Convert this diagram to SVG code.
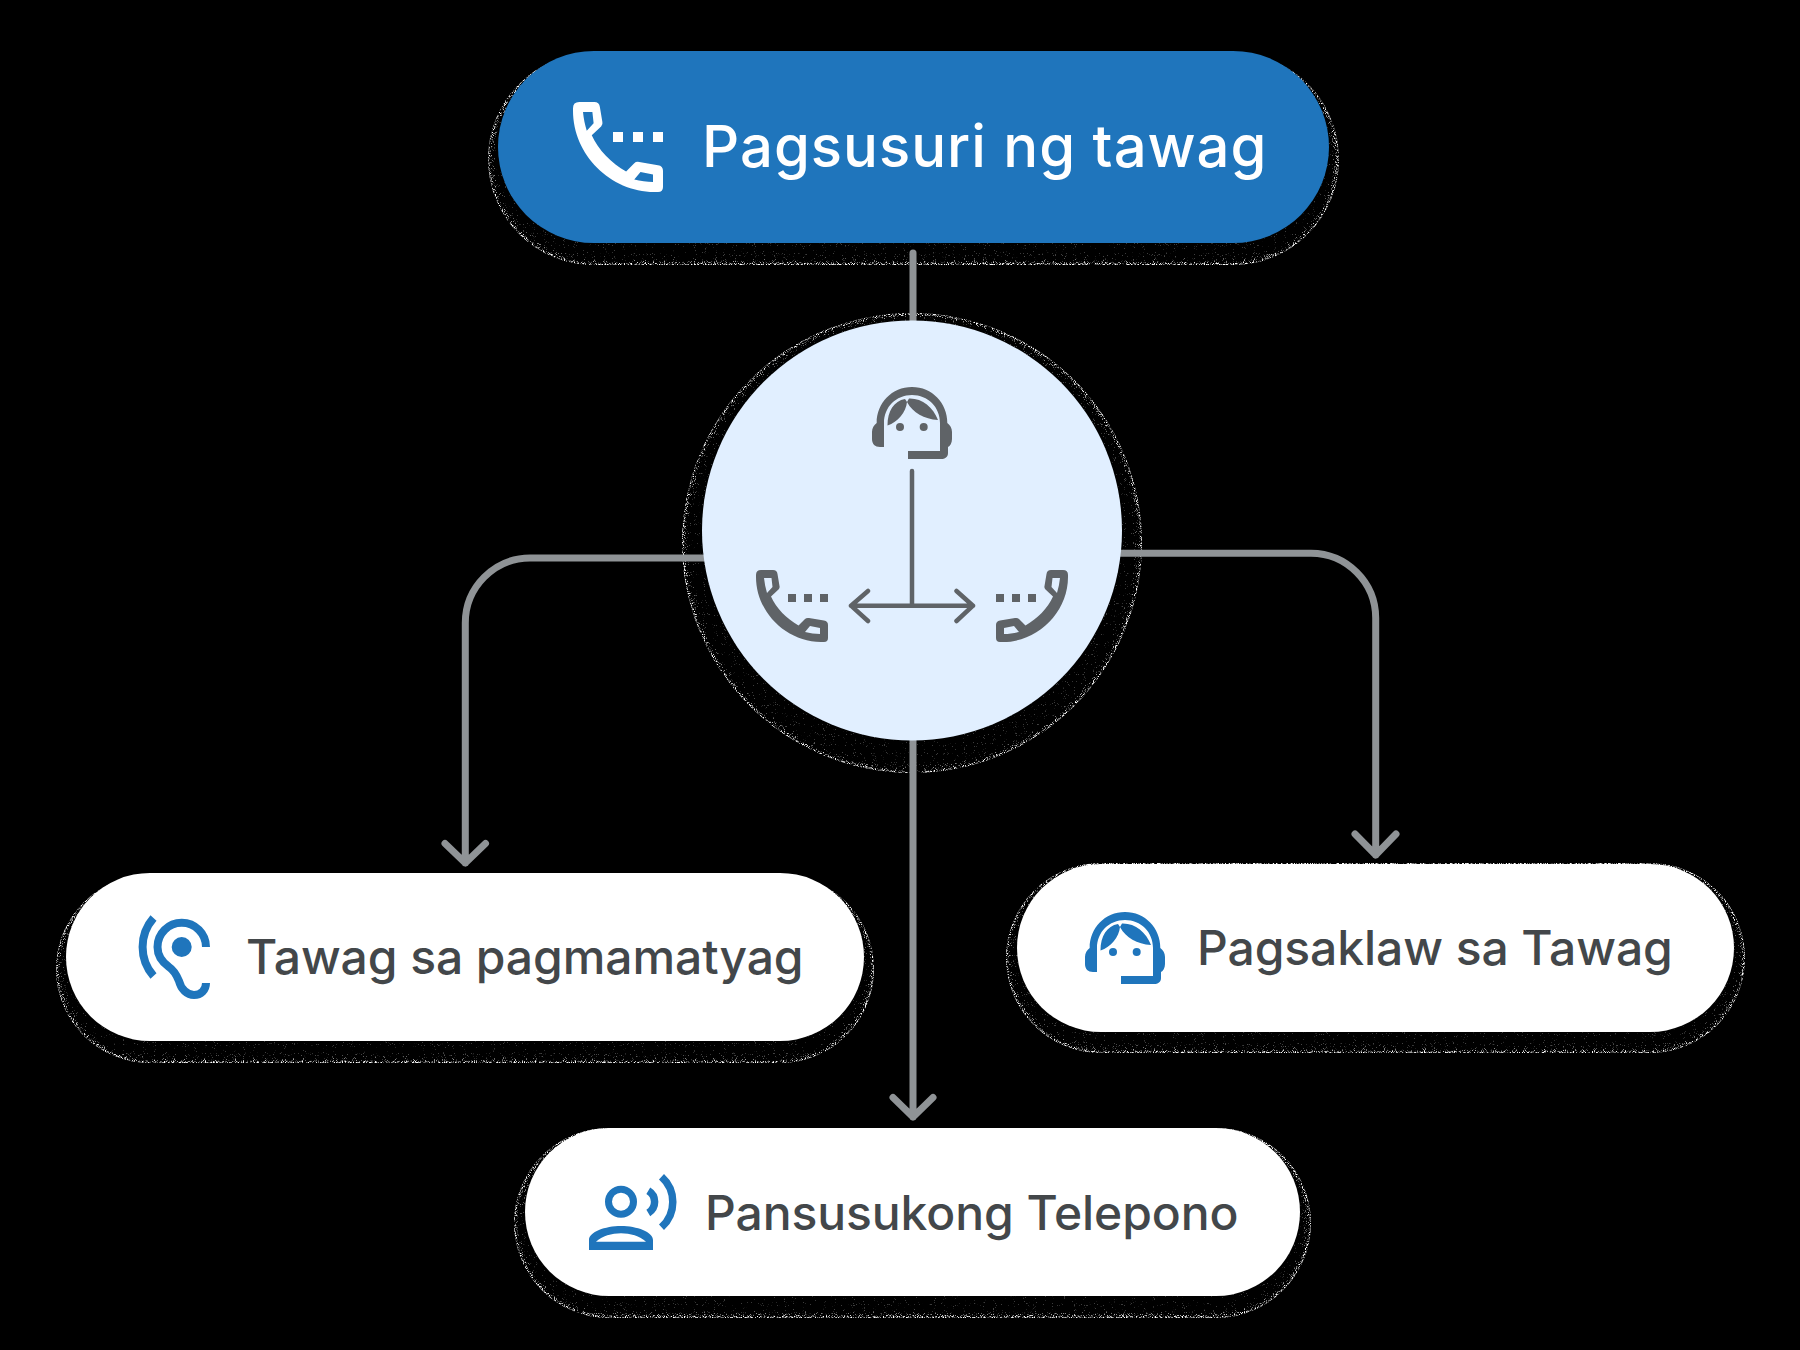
<svg xmlns="http://www.w3.org/2000/svg" width="1800" height="1350" viewBox="0 0 1800 1350">
<style>
text{font-family:Inter,"Liberation Sans",sans-serif;font-weight:450}
.lbl{font-size:48px;fill:#43474a;letter-spacing:-.08px}
.top{font-size:58px;fill:#fff;letter-spacing:1px}
.conn{fill:none;stroke:#8f9396;stroke-width:7;stroke-linecap:round;stroke-linejoin:round}
.inner{fill:none;stroke:#5f6367;stroke-width:4.500;stroke-linecap:round;stroke-linejoin:round}
.card{fill:#fff}
.ln{fill:none;stroke:#1f75bc;stroke-width:8}
.bl{fill:#1f75bc}
</style>
<defs>
<filter id="speck" x="-10%" y="-15%" width="120%" height="130%" color-interpolation-filters="sRGB">
<feTurbulence type="fractalNoise" baseFrequency="1.1" numOctaves="1" seed="3" result="n"/>
<feColorMatrix in="n" type="matrix" values="0 0 0 0 1 0 0 0 0 1 0 0 0 0 1 2.2 0 0 0 -.6" result="na"/>
<feGaussianBlur in="SourceAlpha" stdDeviation="5" result="b"/>
<feComponentTransfer in="b" result="inv"><feFuncA type="table" tableValues="1 .95 .9 .58 .3 .12"/></feComponentTransfer>
<feColorMatrix in="inv" type="matrix" values="0 0 0 0 1 0 0 0 0 1 0 0 0 0 1 0 0 0 1 0" result="invw"/>
<feComposite in="na" in2="invw" operator="arithmetic" k1="0" k2="1" k3="1" k4="-1" result="t"/>
<feColorMatrix in="t" type="matrix" values="0 0 0 0 1 0 0 0 0 1 0 0 0 0 1 0 0 0 2 0" result="w"/>
<feComposite in="w" in2="SourceAlpha" operator="in"/>
</filter>
<symbol id="phone" viewBox="0 0 72 72" overflow="visible">
<path fill-rule="evenodd" d="M5 0H17Q21 0 21.500 4L23.500 16Q24 18 22.500 19.500L15 26.500C20 38 31 49 42.500 55.500L49 49Q50.500 47.500 53 48L68 50.500Q72 51 72 55V68Q72 72 68 72H65C30 72 0 42 0 7V5Q0 0 5 0ZM8 8C8.500 13 9.500 18 11 23L16.500 17L15.500 8ZM49 62C54 63 59 64 64 64V58L54 56Z"/>
<rect x="32" y="24" width="8" height="8"/><rect x="48" y="24" width="8" height="8"/><rect x="64" y="24" width="8" height="8"/>
</symbol>
<symbol id="agent" viewBox="0 0 80 72" overflow="visible">
<path d="M4.700 36C4.700 16 20 0 40 0C60 0 75.300 16 75.300 36C78 38 80 41 80 45V52C80 56 78 59 76 60V66C76 70 73 72 69 72H36V64H68V36C68 20 56 8 40 8C24 8 12 20 12 36V60H8C3 60 0 57 0 52V45C0 41 2 38 4.700 36Z"/>
<path d="M15.500 38.500C15.500 24 22 14 33 12L35 15L37 11.500C50 11 61 20 66 33C52 32 41 26 35 15C34 25 26 35 15.500 38.500Z"/>
<circle cx="28" cy="40" r="4"/><circle cx="51.700" cy="40" r="4"/>
</symbol>
</defs>
<rect id="background" width="1800" height="1350" fill="#000"/>
<g id="shadows" filter="url(#speck)" fill="#000">
<rect x="488" y="53" width="851" height="212" rx="106"/>
<circle cx="912" cy="543" r="230"/>
<rect x="56" y="875" width="818" height="188" rx="94"/>
<rect x="1006" y="863" width="739" height="190" rx="95"/>
<rect x="514" y="1128" width="797" height="190" rx="95"/>
</g>
<g id="connectors">
<path class="conn" d="M913 253V322"/>
<path class="conn" d="M704 558H530A65 65 0 0 0 465.300 623V863M445 843.500L465.300 863L485.500 843.500"/>
<path class="conn" d="M1120 553.300H1311A65 65 0 0 1 1375.700 618V855M1355 834L1375.700 855L1396 834"/>
<path class="conn" d="M913 740V1117M893 1097.500L913 1117L933 1097.500"/>
</g>
<g id="node-pagsusuri">
<rect x="498" y="51" width="831" height="192" rx="96" fill="#1f75bc"/>
<use href="#phone" x="573" y="102" width="90" height="90" fill="#fff"/>
<text class="top" x="702" y="167">Pagsusuri ng tawag</text>
</g>
<g id="node-center">
<circle cx="912" cy="530.500" r="210" fill="#e1efff"/>
<use href="#agent" x="872" y="387" width="80" height="72" fill="#5f6367"/>
<use href="#phone" x="756" y="570" width="72" height="72" fill="#5f6367"/>
<use href="#phone" x="-1068" y="570" width="72" height="72" fill="#5f6367" transform="scale(-1 1)"/>
<path class="inner" d="M912 471V605.700M851 605.700H973M868 591L851 605.700L868 621M956.500 591L973 605.700L956.500 621"/>
</g>
<g id="node-tawag">
<rect class="card" x="66" y="873" width="798" height="168" rx="84"/>
<path class="ln" d="M153.500 918A44 44 0 0 0 153.500 976"/>
<path class="ln" d="M206 947A24.250 24.250 0 0 0 157.500 947C157.500 956 162 962 169 967C175 971 177 976 179 981C181 989 187 995 194 995C201 995 206 990 206 983"/>
<circle class="bl" cx="181.700" cy="947" r="10"/>
<text class="lbl" x="246" y="974">Tawag sa pagmamatyag</text>
</g>
<g id="node-pagsaklaw">
<rect class="card" x="1017" y="864" width="717" height="168" rx="84"/>
<use href="#agent" x="1085" y="912" width="80" height="72" fill="#1f75bc"/>
<text class="lbl" x="1197" y="965">Pagsaklaw sa Tawag</text>
</g>
<g id="node-pansusukong">
<rect class="card" x="525" y="1128" width="775" height="168" rx="84"/>
<circle cx="621" cy="1201.700" r="12.500" fill="none" stroke="#1f75bc" stroke-width="7"/>
<path class="bl" fill-rule="evenodd" d="M589 1250V1240C589 1232 605 1226 621 1226C637 1226 653 1232 653 1240V1250ZM596 1241.700H646C640 1236 630 1233.300 621 1233.300C612 1233.300 602 1236 596 1241.700Z"/>
<path class="ln" style="stroke-width:7.500" d="M661.500 1176.700A34 34 0 0 1 661.500 1227.300M648.300 1190.700A13 13 0 0 1 648.300 1213"/>
<text class="lbl" x="705" y="1229.500">Pansusukong Telepono</text>
</g>
</svg>
